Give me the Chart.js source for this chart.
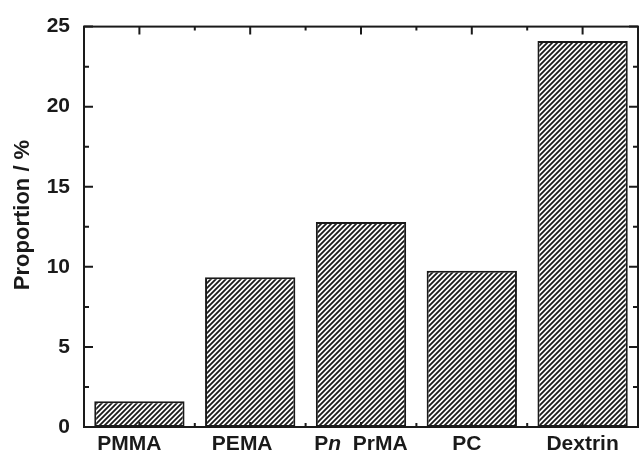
<!DOCTYPE html>
<html>
<head>
<meta charset="utf-8">
<script src="https://cdn.jsdelivr.net/npm/chart.js@4.4.0/dist/chart.umd.min.js"></script>
<style>
  html, body { margin: 0; padding: 0; background: #fff; }
  #wrap { width: 640px; height: 455px; }
</style>
</head>
<body>
<div id="wrap"><canvas id="propChart" width="640" height="455"></canvas></div>
<script>
// Data
const categories = ['PMMA', 'PEMA', 'P*n*  PrMA', 'PC', 'Dextrin'];
const proportions = [1.6, 9.35, 12.8, 9.75, 24.1];
const yTickValues = [0, 5, 10, 15, 20, 25];
const yMinorValues = [2.5, 7.5, 12.5, 17.5, 22.5];
const yTitle = 'Proportion / %';

const FONT = '"Liberation Sans", Arial, sans-serif';
const INK = '#1a1a1a';
// labels in the original sit a little left of some bar centres
const labelNudge = [-10, -8, 0, -5, 0];

// Diagonal hatch fill (////)
function makeHatch() {
    const size = 5;
    const c = document.createElement('canvas');
    c.width = size; c.height = size;
    const g = c.getContext('2d');
    g.fillStyle = '#fff';
    g.fillRect(0, 0, size, size);
    g.strokeStyle = INK;
    g.lineWidth = 1.8;
    g.beginPath();
    g.moveTo(-1, 1); g.lineTo(1, -1);
    g.moveTo(0, size); g.lineTo(size, 0);
    g.moveTo(size - 1, size + 1); g.lineTo(size + 1, size - 1);
    g.stroke();
    return g.createPattern(c, 'repeat');
}

// Frame, inward ticks, axis title and category labels (with italic parts)
const framePlugin = {
    id: 'frame',
    afterDraw(chart) {
        const { ctx, chartArea: { left, right, top, bottom }, scales: { x, y } } = chart;
        ctx.save();
        ctx.strokeStyle = INK;
        ctx.lineWidth = 2;
        ctx.strokeRect(left, top, right - left, bottom - top);

        ctx.beginPath();
        yTickValues.forEach(v => {
            const py = y.getPixelForValue(v);
            ctx.moveTo(left, py); ctx.lineTo(left + 9, py);
            ctx.moveTo(right, py); ctx.lineTo(right - 9, py);
        });
        yMinorValues.forEach(v => {
            const py = y.getPixelForValue(v);
            ctx.moveTo(left, py); ctx.lineTo(left + 5, py);
            ctx.moveTo(right, py); ctx.lineTo(right - 5, py);
        });
        categories.forEach((c, i) => {
            const px = x.getPixelForValue(i);
            ctx.moveTo(px, bottom); ctx.lineTo(px, bottom - 5);
            ctx.moveTo(px, top); ctx.lineTo(px, top + 8);
            if (i > 0) {
                const bx = (x.getPixelForValue(i - 1) + px) / 2;
                ctx.moveTo(bx, bottom); ctx.lineTo(bx, bottom - 4);
                ctx.moveTo(bx, top); ctx.lineTo(bx, top + 4);
            }
        });
        ctx.stroke();

        ctx.fillStyle = INK;

        // y axis title
        ctx.save();
        ctx.translate(23, 215);
        ctx.rotate(-Math.PI / 2);
        ctx.font = 'bold 22px ' + FONT;
        ctx.textAlign = 'center';
        ctx.textBaseline = 'middle';
        ctx.fillText(yTitle, 0, 0);
        ctx.restore();

        // category labels
        ctx.textBaseline = 'middle';
        ctx.textAlign = 'left';
        categories.forEach((label, i) => {
            const parts = label.split('*').map((t, k) => ({ text: t, italic: k % 2 === 1 }));
            let total = 0;
            parts.forEach(p => {
                ctx.font = (p.italic ? 'italic ' : '') + 'bold 21px ' + FONT;
                p.w = ctx.measureText(p.text).width;
                total += p.w;
            });
            let px = x.getPixelForValue(i) - total / 2 + labelNudge[i];
            parts.forEach(p => {
                ctx.font = (p.italic ? 'italic ' : '') + 'bold 21px ' + FONT;
                ctx.fillText(p.text, px, bottom + 17);
                px += p.w;
            });
        });
        ctx.restore();
    }
};

const ctx = document.getElementById('propChart').getContext('2d');

new Chart(ctx, {
    type: 'bar',
    data: {
        labels: categories.map(c => c.replace(/\*/g, '').replace(/\s+/g, ' ')),
        datasets: [{
            label: yTitle,
            data: proportions,
            backgroundColor: makeHatch(),
            borderColor: INK,
            borderWidth: 2,
            borderSkipped: false,
            categoryPercentage: 1,
            barPercentage: 0.815
        }]
    },
    options: {
        responsive: false,
        animation: false,
        layout: { padding: { top: 19, right: 2, left: 0, bottom: 0 } },
        plugins: { legend: { display: false }, tooltip: { enabled: false } },
        scales: {
            x: {
                grid: { display: false, drawTicks: false },
                border: { display: false },
                ticks: { display: false },
                afterFit: s => { s.height = 28; }
            },
            y: {
                min: 0,
                max: 25,
                afterBuildTicks: s => { s.ticks = yTickValues.map(v => ({ value: v })); },
                grid: { display: false, drawTicks: false },
                border: { display: false },
                ticks: {
                    padding: 14,
                    color: INK,
                    font: { family: FONT, size: 21, weight: 'bold' }
                },
                afterFit: s => { s.width = 84; }
            }
        }
    },
    plugins: [framePlugin]
});
</script>
</body>
</html>
